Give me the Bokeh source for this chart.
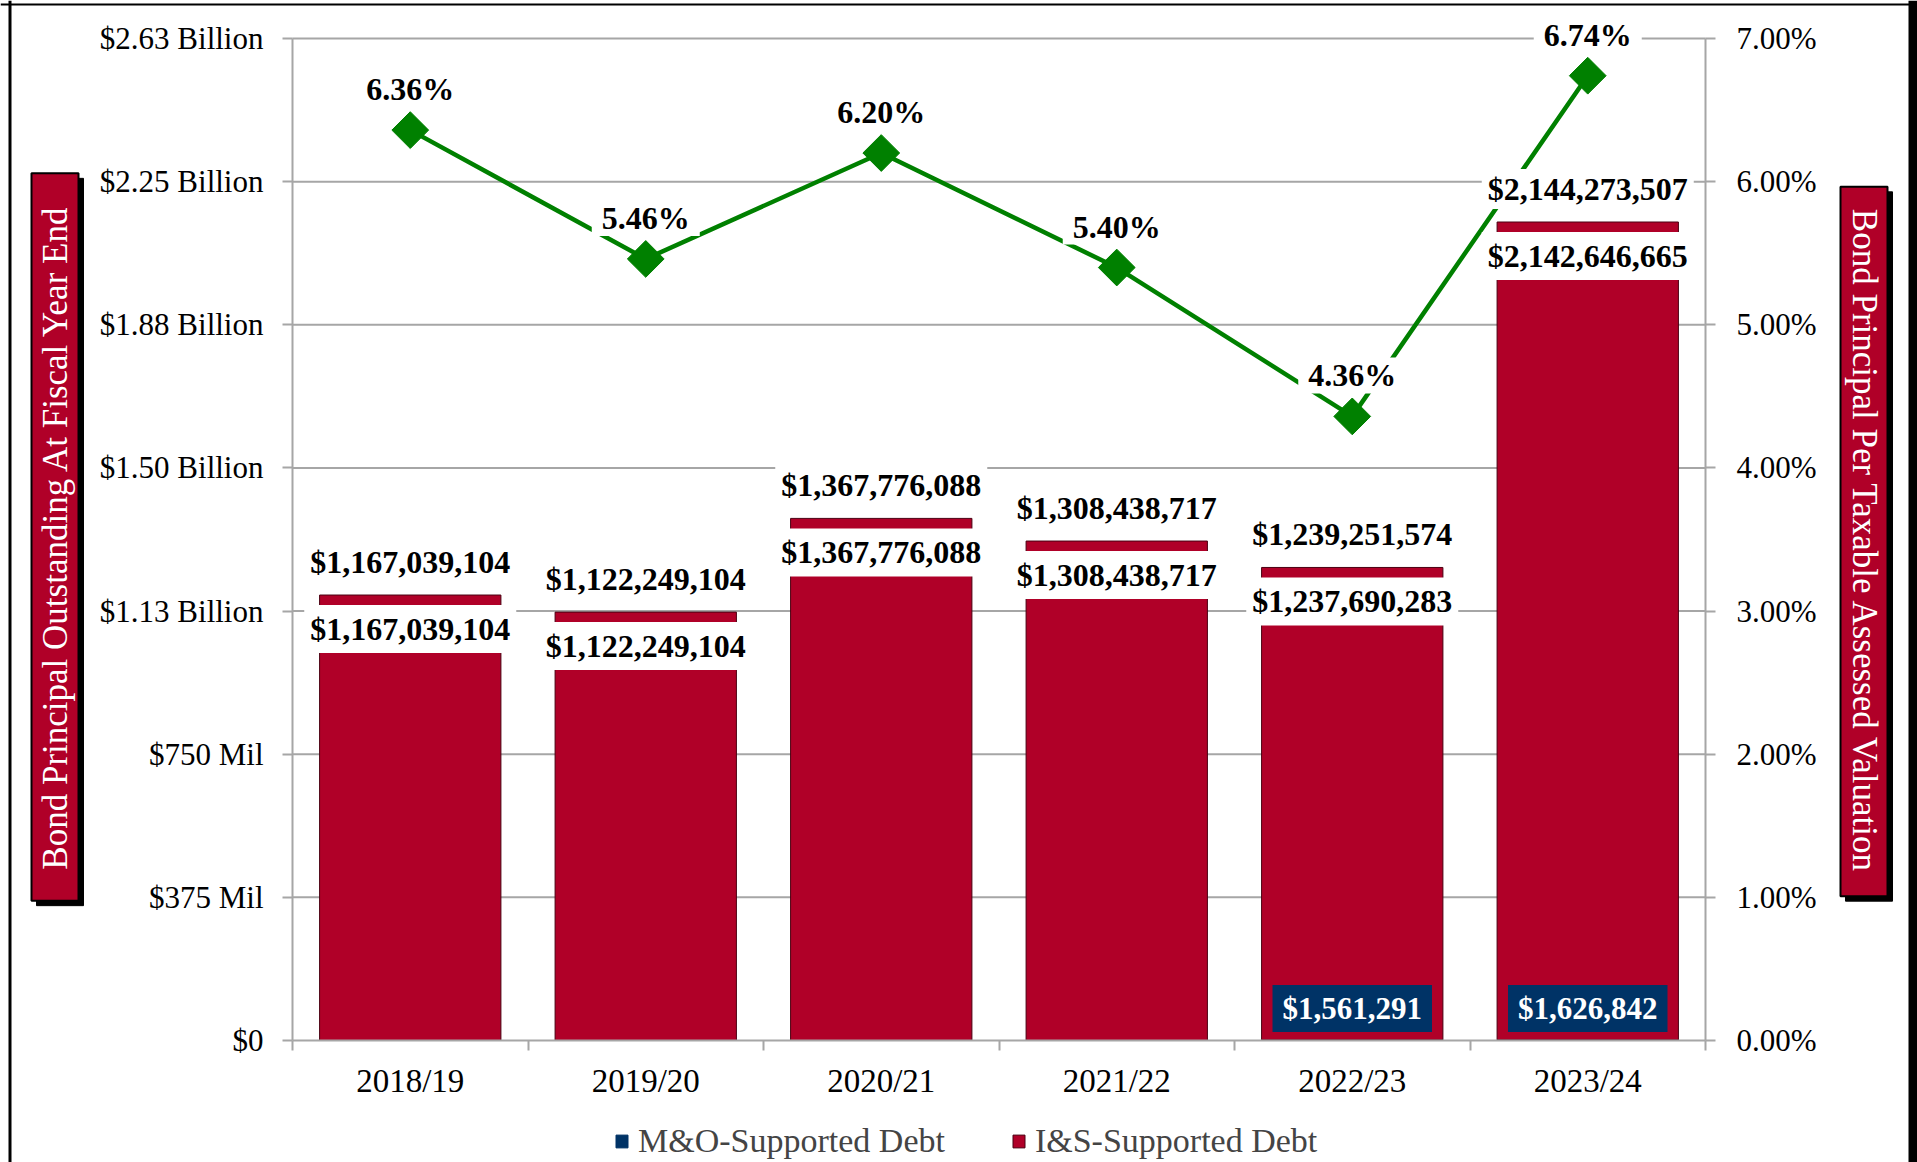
import math
from bokeh.plotting import figure
from bokeh.models import (Range1d, LinearAxis, FixedTicker, ColumnDataSource, Label, Span,
                          Legend, LegendItem, PrintfTickFormatter)
from bokeh.core.properties import value
from bokeh.embed import file_html
from bokeh.resources import INLINE

# ---------------- data ----------------
years = ["2018/19", "2019/20", "2020/21", "2021/22", "2022/23", "2023/24"]
mo_debt = [0, 0, 0, 0, 1561291, 1626842]
is_debt = [1167039104, 1122249104, 1367776088, 1308438717, 1237690283, 2142646665]
pct_of_tav = [6.36, 5.46, 6.20, 5.40, 4.36, 6.74]

y_tick_values = [0, 375000000, 750000000, 1125000000, 1500000000, 1875000000, 2250000000, 2625000000]
y_tick_labels = ["$0", "$375 Mil", "$750 Mil", "$1.13 Billion", "$1.50 Billion",
                 "$1.88 Billion", "$2.25 Billion", "$2.63 Billion"]
pct_tick_values = [0, 1, 2, 3, 4, 5, 6, 7]

left_title = "Bond Principal Outstanding At Fiscal Year End"
right_title = "Bond Principal Per Taxable Assessed Valuation"
legend_labels = ["M&O-Supported Debt", "I&S-Supported Debt"]

# ---------------- styles / geometry (pixels) ----------------
FONT = "Liberation Serif"
RED = "#B00028"
NAVY = "#003366"
GREEN = "#008000"
GRID = "#A6A6A6"

W, H = 1917, 1162
PLOT_L, PLOT_R = 292, 1705      # x pixel of category area edges
ZERO_Y, TOP_Y = 1040, 38        # y pixel of the zero line and of the top tick
NCAT = len(years)
YMAX = y_tick_values[-1]
PMAX = pct_tick_values[-1]
UX = (PLOT_R - PLOT_L) / NCAT


def dx(px):
    return (px - PLOT_L) / UX


def dy(py, top=YMAX):
    return (ZERO_Y - py) / (ZERO_Y - TOP_Y) * top


totals = [m + i for m, i in zip(mo_debt, is_debt)]
xs = [i + 0.5 for i in range(NCAT)]

src = ColumnDataSource(dict(
    x=xs, mo=mo_debt, isd=is_debt, total=totals,
    total_lbl=["${:,}".format(t) for t in totals],
    is_lbl=["${:,}".format(v) for v in is_debt],
))
pct_src = ColumnDataSource(dict(x=xs, pct=pct_of_tav, lbl=["{:.2f}%".format(v) for v in pct_of_tav]))
mo_src = ColumnDataSource(dict(
    x=[x for x, m in zip(xs, mo_debt) if m > 0],
    y=[0 for m in mo_debt if m > 0],
    lbl=["${:,}".format(m) for m in mo_debt if m > 0],
))
grid_src = ColumnDataSource(dict(y=y_tick_values[1:]))

# the frame covers the whole canvas; axes are pinned with fixed_location
p = figure(width=W, height=H, x_range=Range1d(dx(0), dx(W)), y_range=Range1d(dy(H), dy(0)),
           output_backend="svg", toolbar_location=None, min_border=0)
p.extra_y_ranges = {"pct": Range1d(dy(H, PMAX), dy(0, PMAX))}
p.outline_line_color = None
p.background_fill_color = "white"
p.border_fill_color = "white"
p.grid.visible = False

# gridlines between the two value axes
p.segment(x0=0, x1=NCAT, y0="y", y1="y", source=grid_src, line_color=GRID, line_width=2)

# bars
r_mo = p.vbar(x="x", bottom=0, top="mo", width=0.77, fill_color=NAVY, line_color=NAVY, source=src)
r_is = p.vbar(x="x", bottom="mo", top="total", width=0.77, fill_color=RED,
              line_color="#4a0012", line_width=1, source=src)

# line
p.line(x="x", y="pct", source=pct_src, y_range_name="pct", line_color=GREEN, line_width=4.5)

lbl_common = dict(text_font=value(FONT), text_font_style="bold",
                  text_align="center", text_baseline="middle")

# padding given as (horizontal, vertical)
p.text(x="x", y="total", text="total_lbl", source=src, y_offset=-33, text_font_size="32px",
       background_fill_color="white", padding=(6, 2), **lbl_common)
p.text(x="x", y="total", text="is_lbl", source=src, y_offset=34, text_font_size="32px",
       background_fill_color="white", padding=(6, 6), **lbl_common)
p.text(x="x", y="y", text="lbl", source=mo_src, y_offset=-32, text_color="white",
       text_font_size="31px", background_fill_color=NAVY, padding=(10, 6), **lbl_common)
p.text(x="x", y="pct", text="lbl", source=pct_src, y_range_name="pct", y_offset=-41,
       text_font_size="32px", background_fill_color="white", padding=(10, 0), **lbl_common)

# diamond markers on top
p.scatter(x="x", y="pct", source=pct_src, y_range_name="pct", marker="square",
          angle=math.pi / 4, size=26, fill_color=GREEN, line_color=GREEN)

# axes
yax = p.yaxis[0]
yax.ticker = FixedTicker(ticks=y_tick_values)
yax.major_label_overrides = dict(zip(y_tick_values, y_tick_labels))
yax.bounds = (0, YMAX)
yax.fixed_location = 0
rax = LinearAxis(y_range_name="pct", ticker=FixedTicker(ticks=pct_tick_values),
                 formatter=PrintfTickFormatter(format="%.2f%%"), bounds=(0, PMAX),
                 fixed_location=NCAT)
p.add_layout(rax, "right")
for ax in (yax, rax):
    ax.major_label_text_font = FONT
    ax.major_label_text_font_size = "31px"
    ax.major_label_text_color = "black"
    ax.axis_line_color = GRID
    ax.axis_line_width = 2
    ax.major_tick_line_color = GRID
    ax.major_tick_line_width = 2
    ax.major_tick_out = 10
    ax.major_tick_in = 0
    ax.minor_tick_line_color = None
yax.major_label_standoff = 19
rax.major_label_standoff = 21

xax = p.xaxis[0]
xax.ticker = FixedTicker(ticks=xs, minor_ticks=list(range(NCAT + 1)))
xax.major_label_overrides = dict(zip(xs, years))
xax.bounds = (0, NCAT)
xax.fixed_location = 0
xax.major_label_text_font = FONT
xax.major_label_text_font_size = "33px"
xax.major_label_text_color = "black"
xax.axis_line_color = GRID
xax.axis_line_width = 2
xax.major_tick_out = 0
xax.major_tick_in = 0
xax.major_tick_line_color = None
xax.minor_tick_out = 10
xax.minor_tick_in = 0
xax.minor_tick_line_color = GRID
xax.minor_tick_line_width = 2
xax.major_label_standoff = 12

# legend at the bottom
legend = Legend(items=[LegendItem(label=legend_labels[0], renderers=[r_mo]),
                       LegendItem(label=legend_labels[1], renderers=[r_is])],
                orientation="horizontal", location=(614, 2), padding=0, margin=0,
                spacing=66, glyph_width=15, glyph_height=16, label_standoff=9,
                label_text_font=FONT, label_text_font_size="34px",
                border_line_color=None, background_fill_alpha=0)
p.add_layout(legend)

# axis title boxes with drop shadow
for (cx, cy, txt, ang, pad) in [(54.5, 536.5, left_title, math.pi / 2, (31, 4)),
                                (1863.5, 541, right_title, -math.pi / 2, (22, 4))]:
    common = dict(x=dx(cx), y=dy(cy), text=txt, angle=ang, text_font=FONT,
                  text_font_size="35px", text_align="center", text_baseline="middle",
                  padding=pad)
    p.add_layout(Label(x_offset=5, y_offset=-5, text_color="black",
                       background_fill_color="black", border_line_color="black", **common))
    p.add_layout(Label(text_color="white", background_fill_color=RED,
                       border_line_color="black", border_line_width=2, **common))

# chart-area border (left, top, thick right edge)
p.add_layout(Span(location=dx(9.5), dimension="height", line_color="black", line_width=3))
p.add_layout(Span(location=dy(4), dimension="width", line_color="black", line_width=2))
p.add_layout(Span(location=dx(1912.5), dimension="height", line_color="black", line_width=9))

open("out.html", "w").write(file_html(p, INLINE))
